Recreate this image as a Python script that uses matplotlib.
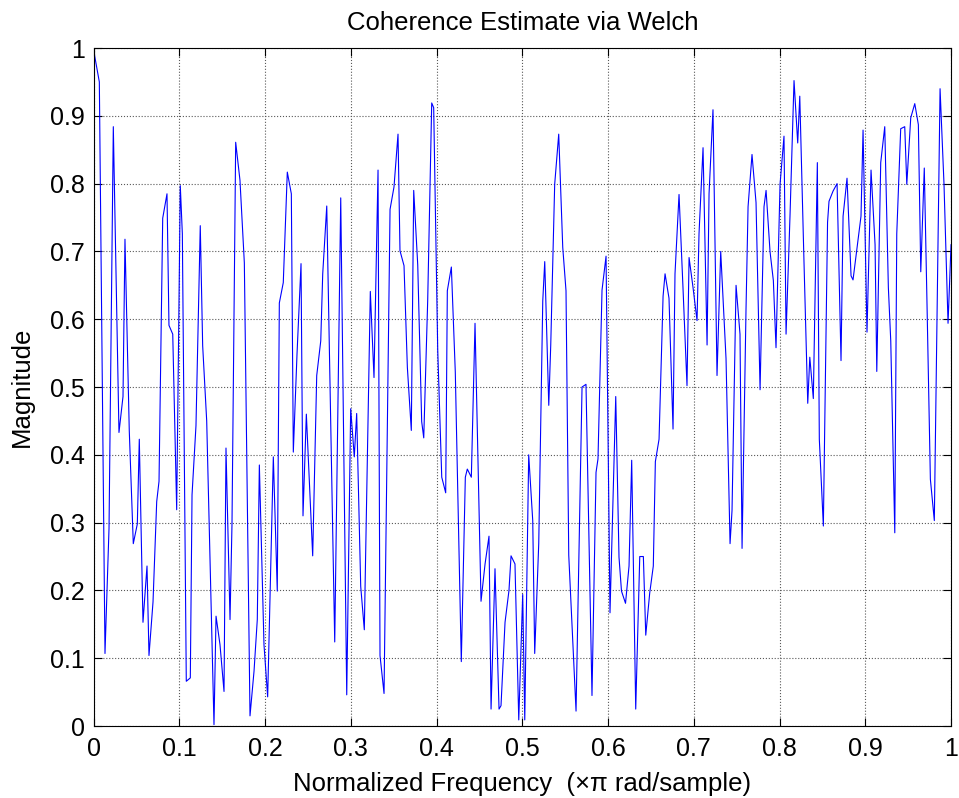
# -*- coding: utf-8 -*-
"""
Coherence estimate via Welch - recreated plot
"""
import matplotlib
matplotlib.use('Agg')
import matplotlib.pyplot as plt
import numpy as np

# Data (visible vertices of the trace)
freq = np.array([
    0.0, 0.0068, 0.0134, 0.0181, 0.0231, 0.0297, 0.0344, 0.0367, 0.0417, 0.0464,
    0.0511, 0.0534, 0.0577, 0.0624, 0.0647, 0.0694, 0.0737, 0.0764, 0.0807, 0.0857,
    0.0880, 0.0924, 0.0970, 0.1012, 0.1036, 0.1082, 0.1129, 0.1149, 0.1195, 0.1245,
    0.1273, 0.1320, 0.1405, 0.1429, 0.1475, 0.1522, 0.1545, 0.1592, 0.1615, 0.1658,
    0.1708, 0.1759, 0.1825, 0.1872, 0.1910, 0.1934, 0.1988, 0.2031, 0.2097, 0.2143,
    0.2167, 0.2213, 0.2260, 0.2307, 0.2330, 0.2373, 0.2420, 0.2443, 0.2482, 0.2556,
    0.2603, 0.2650, 0.2673, 0.2720, 0.2813, 0.2883, 0.2953, 0.2999, 0.3041, 0.3069,
    0.3116, 0.3158, 0.3228, 0.3271, 0.3318, 0.3341, 0.3388, 0.3458, 0.3504, 0.3551,
    0.3574, 0.3621, 0.3660, 0.3706, 0.3734, 0.3781, 0.3827, 0.3851, 0.3897, 0.3944,
    0.3967, 0.4014, 0.4061, 0.4107, 0.4126, 0.4173, 0.4219, 0.4289, 0.4336, 0.4359,
    0.4406, 0.4449, 0.4519, 0.4566, 0.4612, 0.4636, 0.4682, 0.4729, 0.4752, 0.4799,
    0.4845, 0.4869, 0.4915, 0.4959, 0.5005, 0.5029, 0.5075, 0.5122, 0.5145, 0.5192,
    0.5239, 0.5262, 0.5309, 0.5332, 0.5378, 0.5425, 0.5472, 0.5510, 0.5542, 0.5627,
    0.5697, 0.5743, 0.5813, 0.5860, 0.5883, 0.5930, 0.5977, 0.6023, 0.6090, 0.6128,
    0.6157, 0.6204, 0.6245, 0.6276, 0.6323, 0.6370, 0.6412, 0.6440, 0.6486, 0.6528,
    0.6552, 0.6595, 0.6642, 0.6665, 0.6711, 0.6758, 0.6781, 0.6828, 0.6874, 0.6921,
    0.6945, 0.6991, 0.7038, 0.7061, 0.7108, 0.7155, 0.7178, 0.7224, 0.7271, 0.7314,
    0.7353, 0.7376, 0.7423, 0.7446, 0.7493, 0.7539, 0.7563, 0.7609, 0.7633, 0.7679,
    0.7726, 0.7773, 0.7819, 0.7843, 0.7889, 0.7928, 0.7959, 0.8006, 0.8052, 0.8076,
    0.8122, 0.8169, 0.8212, 0.8236, 0.8282, 0.8329, 0.8353, 0.8394, 0.8441, 0.8464,
    0.8511, 0.8560, 0.8577, 0.8624, 0.8671, 0.8717, 0.8741, 0.8787, 0.8834, 0.8857,
    0.8904, 0.8950, 0.8974, 0.9020, 0.9067, 0.9114, 0.9134, 0.9180, 0.9227, 0.9269,
    0.9297, 0.9344, 0.9367, 0.9413, 0.9460, 0.9484, 0.9530, 0.9577, 0.9619, 0.9647,
    0.9688, 0.9720, 0.9759, 0.9805, 0.9872, 0.9918, 0.9965, 1.0])

mag = np.array([
    0.998, 0.950, 0.107, 0.292, 0.884, 0.433, 0.486, 0.718, 0.436, 0.269,
    0.298, 0.423, 0.153, 0.236, 0.104, 0.183, 0.331, 0.361, 0.749, 0.785,
    0.591, 0.578, 0.319, 0.797, 0.726, 0.066, 0.071, 0.341, 0.443, 0.738,
    0.561, 0.450, 0.002, 0.162, 0.120, 0.051, 0.410, 0.157, 0.298, 0.861,
    0.805, 0.683, 0.015, 0.081, 0.157, 0.385, 0.120, 0.043, 0.397, 0.199,
    0.624, 0.654, 0.817, 0.785, 0.404, 0.548, 0.682, 0.310, 0.460, 0.251,
    0.517, 0.568, 0.667, 0.767, 0.124, 0.779, 0.046, 0.468, 0.397, 0.461,
    0.206, 0.142, 0.641, 0.514, 0.820, 0.104, 0.048, 0.762, 0.795, 0.873,
    0.701, 0.679, 0.529, 0.436, 0.790, 0.680, 0.449, 0.425, 0.627, 0.919,
    0.912, 0.555, 0.367, 0.344, 0.642, 0.677, 0.522, 0.095, 0.367, 0.379,
    0.367, 0.594, 0.184, 0.239, 0.280, 0.025, 0.232, 0.025, 0.030, 0.153,
    0.200, 0.251, 0.239, 0.009, 0.194, 0.009, 0.400, 0.303, 0.107, 0.269,
    0.627, 0.685, 0.473, 0.562, 0.799, 0.873, 0.706, 0.642, 0.252, 0.022,
    0.500, 0.504, 0.045, 0.374, 0.394, 0.643, 0.693, 0.167, 0.486, 0.249,
    0.199, 0.181, 0.236, 0.392, 0.025, 0.250, 0.250, 0.134, 0.196, 0.236,
    0.390, 0.423, 0.634, 0.667, 0.631, 0.438, 0.667, 0.784, 0.647, 0.502,
    0.691, 0.647, 0.598, 0.726, 0.853, 0.562, 0.785, 0.909, 0.517, 0.700,
    0.601, 0.542, 0.269, 0.318, 0.650, 0.578, 0.262, 0.614, 0.766, 0.843,
    0.772, 0.496, 0.766, 0.790, 0.700, 0.657, 0.558, 0.799, 0.870, 0.578,
    0.752, 0.952, 0.860, 0.929, 0.700, 0.476, 0.544, 0.483, 0.831, 0.423,
    0.295, 0.743, 0.774, 0.789, 0.800, 0.539, 0.752, 0.808, 0.664, 0.658,
    0.706, 0.752, 0.879, 0.581, 0.820, 0.710, 0.523, 0.831, 0.884, 0.647,
    0.568, 0.285, 0.726, 0.881, 0.884, 0.799, 0.897, 0.918, 0.887, 0.670,
    0.823, 0.621, 0.364, 0.303, 0.940, 0.799, 0.594, 0.710])

ticks = np.arange(0, 1.01, 0.1)
tick_labels = ['0', '0.1', '0.2', '0.3', '0.4', '0.5', '0.6', '0.7', '0.8', '0.9', '1']

plt.rcParams['font.family'] = ['Liberation Sans', 'DejaVu Sans']
fs = 18.5      # title / axis labels
fs_tick = 18   # tick labels

fig = plt.figure(figsize=(9.59, 7.98), dpi=100, facecolor='white')
ax = fig.add_axes([0.0975, 0.0902, 0.8942, 0.8496])

ax.plot(freq, mag, color=(0, 0, 1), linewidth=0.8)

ax.set_xlim(0, 1)
ax.set_ylim(0, 1)
ax.set_xticks(ticks)
ax.set_xticklabels(tick_labels)
ax.set_yticks(ticks)
ax.set_yticklabels(tick_labels)
ax.tick_params(direction='in', length=6, width=0.8, top=True, right=True,
               labelsize=fs_tick)
ax.tick_params(axis='x', pad=8)
ax.tick_params(axis='y', pad=6)
ax.grid(True, linestyle=':', color='0.35', linewidth=0.8)
for s in ax.spines.values():
    s.set_linewidth(0.8)

ax.set_title('Coherence Estimate via Welch', fontsize=fs, pad=13)
ax.set_xlabel('Normalized Frequency  (\u00d7\u03c0 rad/sample)', fontsize=fs, labelpad=8)
ax.set_ylabel('Magnitude', fontsize=fs, labelpad=12)

fig.savefig('out.png', dpi=100, facecolor='white')
